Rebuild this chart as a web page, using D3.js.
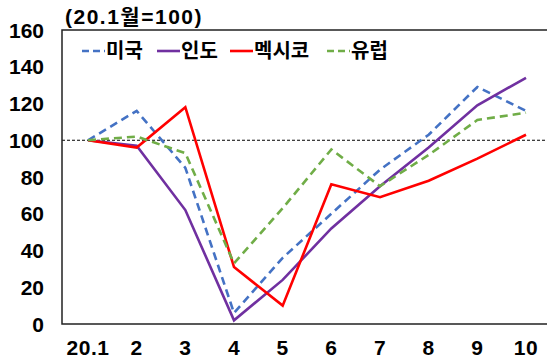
<!DOCTYPE html>
<html>
<head>
<meta charset="utf-8">
<script src="https://cdn.jsdelivr.net/npm/d3@7"></script>
<style>
  body { margin: 0; background: #fff; }
  text { font-family: "Liberation Sans", Arial, "Noto Sans CJK KR", sans-serif; font-weight: bold; fill: #000; }
</style>
</head>
<body>
<svg width="547" height="360"></svg>
<script>
var months = ["20.1", "2", "3", "4", "5", "6", "7", "8", "9", "10"];
var usVals = [100, 116, 85, 6, 36, 60, 84, 103, 129, 116];
var indiaVals = [100, 97, 62, 2, 24, 52, 75, 96, 119, 134];
var mexicoVals = [100, 96, 118, 31, 10, 76, 69, 78, 90, 103];
var europeVals = [100, 102, 93, 33, 63, 95, 75, 92, 111, 115];
var yTicks = [0, 20, 40, 60, 80, 100, 120, 140, 160];

var series = [
    {name: "미국", values: usVals, color: "#4472C4", dash: "8,5"},
    {name: "인도", values: indiaVals, color: "#7030A0", dash: null},
    {name: "멕시코", values: mexicoVals, color: "#FF0000", dash: null},
    {name: "유럽", values: europeVals, color: "#70AD47", dash: "8,5"}
];

var svg = d3.select("svg"),
    plotLeft = 62, plotRight = 547, plotTop = 30, plotBottom = 324;

var x = d3.scalePoint()
    .domain(months)
    .range([88, 526]);

var y = d3.scaleLinear()
    .domain([0, 160])
    .range([plotBottom, plotTop]);

// y tick labels
svg.append("g")
    .selectAll("text")
    .data(yTicks)
    .enter().append("text")
    .attr("x", 44)
    .attr("y", function(d) { return y(d); })
    .attr("dy", "0.36em")
    .attr("text-anchor", "end")
    .style("font-size", "21px")
    .text(function(d) { return d; });

// x tick labels
svg.append("g")
    .selectAll("text")
    .data(months)
    .enter().append("text")
    .attr("x", function(d) { return x(d); })
    .attr("y", 347)
    .attr("dy", "0.36em")
    .attr("text-anchor", "middle")
    .style("font-size", "21px")
    .style("letter-spacing", "0.5px")
    .text(function(d) { return d; });

// reference line at 100
svg.append("line")
    .attr("x1", plotLeft).attr("x2", plotRight)
    .attr("y1", y(100)).attr("y2", y(100))
    .attr("stroke", "#000")
    .attr("stroke-width", 1)
    .attr("stroke-dasharray", "3,2");

// frame
svg.append("path")
    .attr("d", "M" + plotRight + "," + plotTop + "H" + plotLeft + "V" + plotBottom + "H" + plotRight)
    .attr("fill", "none")
    .attr("stroke", "#222")
    .attr("stroke-width", 1.5);

var line = d3.line()
    .x(function(d, i) { return x(months[i]); })
    .y(function(d) { return y(d); });

svg.append("g")
    .selectAll("path")
    .data(series)
    .enter().append("path")
    .attr("d", function(d) { return line(d.values); })
    .attr("fill", "none")
    .attr("stroke", function(d) { return d.color; })
    .attr("stroke-width", 2.6)
    .attr("stroke-dasharray", function(d) { return d.dash; });

// title
svg.append("text")
    .attr("x", 65)
    .attr("y", 24)
    .style("font-size", "21px")
    .style("letter-spacing", "1.5px")
    .text("(20.1월=100)");

// legend
var legendX = [82, 157, 230, 327];
var legend = svg.append("g")
    .selectAll("g")
    .data(series)
    .enter().append("g")
    .attr("transform", function(d, i) { return "translate(" + legendX[i] + ",51)"; });
legend.append("line")
    .attr("x1", 0).attr("x2", 23)
    .attr("stroke", function(d) { return d.color; })
    .attr("stroke-width", 2.6)
    .attr("stroke-dasharray", function(d) { return d.dash ? "7,4" : null; });
legend.append("text")
    .attr("x", 24)
    .attr("dy", "0.36em")
    .style("font-size", "20px")
    .text(function(d) { return d.name; });
</script>
</body>
</html>
